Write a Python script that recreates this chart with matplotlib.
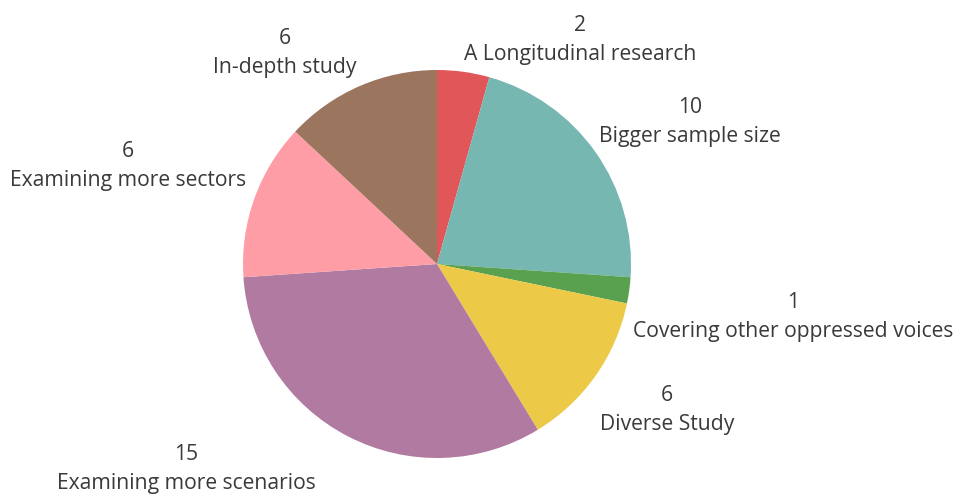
import matplotlib
matplotlib.use("Agg")
import matplotlib.pyplot as plt

# slices, clockwise from 12 o'clock
labels = ["A Longitudinal research", "Bigger sample size", "Covering other oppressed voices",
          "Diverse Study", "Examining more scenarios", "Examining more sectors", "In-depth study"]
counts = [2, 10, 1, 6, 15, 6, 6]
colors = ["#E15759", "#76B7B2", "#59A14F", "#EDC948", "#B07AA1", "#FF9DA7", "#9C755F"]

# label anchor in pixels: x centre, baseline of the name line (from top)
label_px = [(580, 60), (690, 142), (793, 337), (667, 430), (186, 489), (128, 186), (285, 73)]

W, H = 956, 495
cx, cy, r = 437, 264, 194
gap = 29  # px between value baseline and name baseline

fig = plt.figure(figsize=(W / 100, H / 100), dpi=100)
ax = fig.add_axes([(cx - r) / W, (H - cy - r) / H, 2 * r / W, 2 * r / H])
ax.pie(counts, colors=colors, startangle=90, counterclock=False, radius=1,
       wedgeprops=dict(linewidth=0))
ax.set_xlim(-1, 1)
ax.set_ylim(-1, 1)
ax.axis("off")

for name, n, (px, py) in zip(labels, counts, label_px):
    x = (px - cx) / r
    ax.text(x, (cy - py) / r, name, ha="center", va="baseline", fontsize=15.2,
            color="#3a3a3a", family="Open Sans", clip_on=False)
    ax.text(x, (cy - py + gap) / r, str(n), ha="center", va="baseline", fontsize=15.2,
            color="#3a3a3a", family="Open Sans", clip_on=False)

fig.savefig("out.png", dpi=100)
